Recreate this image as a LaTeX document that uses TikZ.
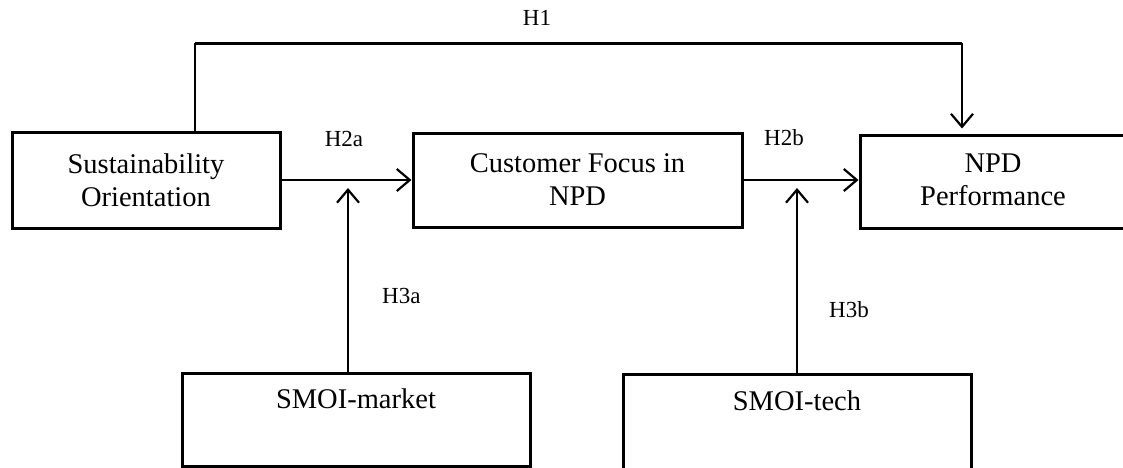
\documentclass[tikz,border=0pt]{standalone}
\usepackage{fontspec}
\setmainfont{Liberation Serif}
\usetikzlibrary{arrows.meta}
\tikzset{
  box/.style={draw, line width=3pt, rectangle, inner sep=0pt, align=center,
              font=\fontsize{28.5}{33}\selectfont},
  boxtext/.style={inner sep=0pt, align=center, font=\fontsize{28.5}{33}\selectfont},
  hyp/.style={inner sep=0pt, font=\fontsize{23}{27}\selectfont},
  arr/.style={line width=2.2pt, -{Straight Barb[length=13pt,width=22pt,line width=2.2pt]}},
  link/.style={line width=2.4pt}
}
\begin{document}
\begin{tikzpicture}[x=1pt,y=-1pt]
  \clip (0,0) rectangle (1123,467);
  \fill[white] (0,0) rectangle (1123,467);

  % constructs
  \node[box, minimum width=268pt, minimum height=96pt] (so) at (146,180)
       {Sustainability\\Orientation};
  \node[box, minimum width=329pt, minimum height=94pt] (cf) at (577.5,180)
       {Customer Focus in\\NPD};
  \node[box, minimum width=280pt, minimum height=93pt] (npd) at (1000,181.5) {};
  \node[boxtext] (npdtext) at (993,180) {NPD\\Performance};

  % moderators
  \node[box, minimum width=348pt, minimum height=93pt] (mkt) at (356,419.5) {};
  \node[boxtext, anchor=base] (mkttext) at (356,408) {SMOI-market};
  \node[box, minimum width=348pt, minimum height=120pt] (tech) at (797,434) {};
  \node[boxtext, anchor=base] (techtext) at (797,410) {SMOI-tech};

  % direct effect H1
  \coordinate (h1l) at (195,43);
  \coordinate (h1r) at (962,43);
  \draw[link] (h1l |- so.north) -- (h1l);
  \draw[line width=3pt] (h1l) -- (h1r);
  \draw[arr, shorten >=5pt] (h1r) -- (h1r |- npd.north);
  \node[hyp] (h1) at (537,18) {H1};

  % mediation H2a / H2b
  \draw[arr] (so.east) -- (cf.west);
  \draw[arr] (cf.east) -- (cf.east -| npd.west);
  \node[hyp] (h2a) at (344,139) {H2a};
  \node[hyp] (h2b) at (784,138) {H2b};

  % moderation H3a / H3b
  \coordinate (m1) at (348,188);
  \coordinate (m2) at (797,188);
  \draw[arr] (m1 |- mkt.north) -- (m1);
  \draw[arr] (m2 |- tech.north) -- (m2);
  \node[hyp, anchor=west] (h3a) at (382,296) {H3a};
  \node[hyp, anchor=west] (h3b) at (829,310) {H3b};
\end{tikzpicture}
\end{document}
